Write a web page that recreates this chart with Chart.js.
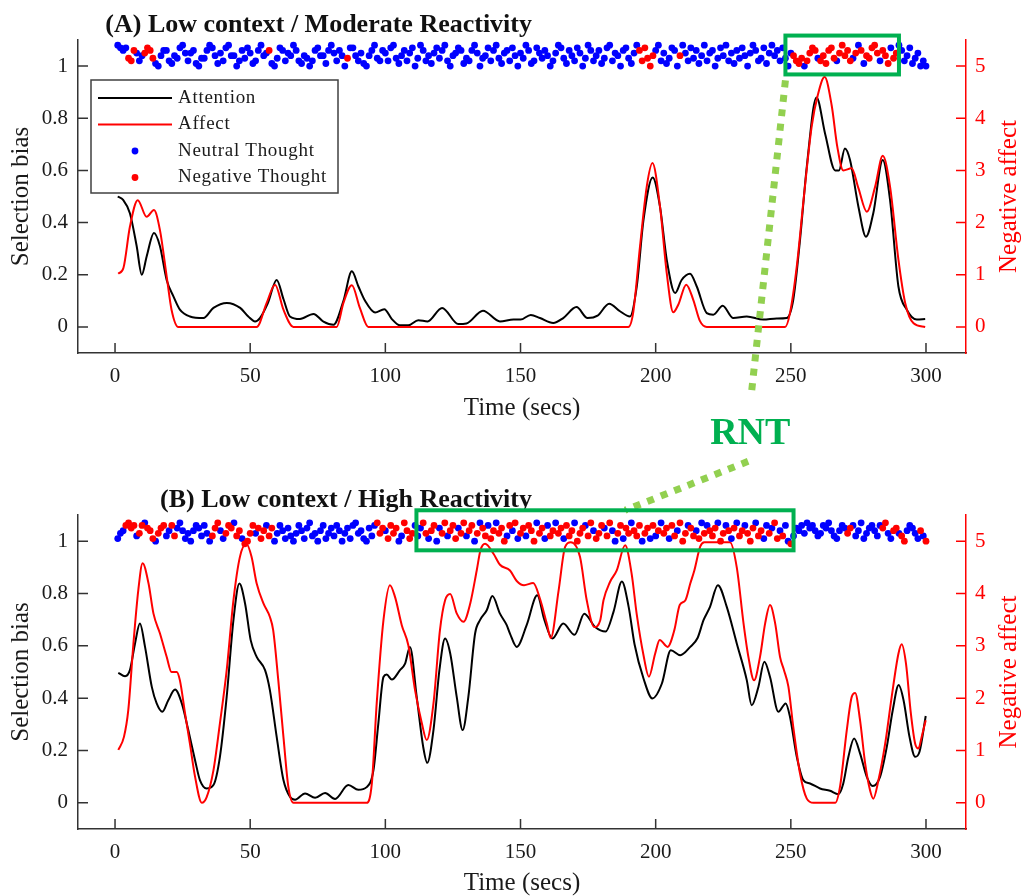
<!DOCTYPE html>
<html><head><meta charset="utf-8">
<script src="https://cdn.jsdelivr.net/npm/chart.js@4.4.0/dist/chart.umd.min.js"></script>
<style>
html,body{margin:0;padding:0;background:#fff;overflow:hidden;width:1027px;height:896px;}
#wrap{position:relative;width:1027px;height:896px;overflow:hidden;}
canvas{position:absolute;left:0;}
</style></head><body>
<div id="wrap">
<canvas id="cA" width="1027" height="430" style="top:0px"></canvas>
<canvas id="cB" width="1027" height="470" style="top:440px"></canvas>
<canvas id="ov" width="1027" height="896" style="top:0px;pointer-events:none"></canvas>
</div>
<script>
// ---------- tick labels ----------
const xTicks = [0, 50, 100, 150, 200, 250, 300];
const leftTicks = [0, 0.2, 0.4, 0.6, 0.8, 1];
const rightTicks = [0, 1, 2, 3, 4, 5];

// ---------- Panel A: Low context / Moderate Reactivity ----------
const attTimeA = [1,3,5.5,8,9.9,11.7,14.4,16.6,19.1,21.6,24,27.7,32.7,36.4,41.4,46.3,49.3,51.8,53.6,56.5,59.8,62.3,64.7,68.4,73.4,77.1,80.8,84.5,87.6,90,92.5,96.2,99.6,102.4,105.4,108.5,112.2,115.6,121,127,130,136.1,142.4,147.4,150,153.8,157.2,162.1,165.8,170.7,174.8,178.5,182.8,186.8,190.5,193,195.5,198.9,201.6,204.1,207.2,209.6,212.7,215.2,218.9,221.3,224.8,228.7,233.7,239.8,244.8,248.5,250.9,253.4,255.9,259.5,262.7,266.4,267.8,270,271.9,275,277.8,280.5,284,286.7,289.8,292.9,296.6,299.7];
const attValA = [0.5,0.487,0.436,0.31,0.2,0.27,0.36,0.31,0.18,0.117,0.066,0.04,0.034,0.073,0.092,0.073,0.04,0.021,0.034,0.09,0.18,0.107,0.04,0.03,0.05,0.02,0.008,0.1,0.213,0.156,0.1,0.055,0.068,0.03,0.006,0.006,0.026,0.021,0.073,0.011,0.013,0.062,0.021,0.028,0.028,0.046,0.034,0.015,0.034,0.076,0.034,0.043,0.089,0.06,0.04,0.155,0.41,0.573,0.461,0.257,0.13,0.18,0.204,0.155,0.053,0.047,0.081,0.034,0.04,0.028,0.032,0.034,0.104,0.334,0.614,0.88,0.74,0.6,0.6,0.684,0.64,0.461,0.346,0.436,0.64,0.487,0.155,0.066,0.028,0.03];
const affTimeA = [1.2,3.1,5.5,8.4,11.7,14.4,16.6,19.1,20.9,23.4,52.4,56.1,59.2,62.3,66,82,84.5,87.6,90.6,93.7,189.9,191.7,194.2,196.7,198.8,201.6,204.1,206.5,208.4,211.3,213.9,216.4,218.9,247.9,249.7,252.2,254.7,257.7,260,262.5,265.1,267.2,269.4,272.5,275,278.1,281.2,284,286.7,289.8,292.3,295.4,299.7];
const affValA = [1.02,1.13,1.92,2.43,2.11,2.24,1.86,0.97,0.33,0,0,0.46,0.81,0.33,0,0,0.46,0.8,0.36,0,0,0.28,1.54,2.69,3.14,2.31,1.03,0.28,0.43,0.81,0.52,0.11,0,0,0.27,1.16,2.43,3.84,4.45,4.79,4.25,3.45,3.0,3.04,2.66,2.21,2.69,3.28,2.69,1.29,0.46,0.07,0];
// thought markers, one per second (t = 1..300), height above 1 in hundredths
const thoughtOffsetA = [8,7,6,7,3,2,6,5,2,4, 5,7,6,3,1,0,4,6,6,2, 1,4,3,7,8,5,2,5,6,1, 0,3,3,6,8,7,4,1,5,2, 7,8,4,4,0,2,6,3,7,5,
 1,2,6,8,4,5,6,1,0,3, 7,6,2,5,4,8,6,2,1,4, 3,0,2,6,7,4,4,1,6,8, 5,2,6,4,0,3,7,7,4,2, 5,1,0,4,6,8,3,2,6,5,
 2,7,8,3,1,4,6,2,5,7, 0,3,8,6,2,4,1,5,7,3, 6,8,2,0,4,5,7,6,1,3, 2,6,8,5,0,3,4,7,2,6, 8,3,1,5,6,2,7,4,0,5,
 3,8,6,1,2,7,5,3,6,4, 0,2,5,8,7,3,1,6,4,2, 7,5,0,3,8,6,2,4,6,1, 3,7,8,2,5,4,0,6,7,3, 1,5,8,6,2,7,3,0,4,6,
 8,2,5,1,3,7,6,0,4,8, 5,2,7,3,6,1,4,8,2,5, 6,0,3,7,4,8,2,5,1,6, 3,7,4,0,5,8,6,2,3,7, 1,5,8,4,6,2,7,3,0,5,
 4,2,1,3,0,2,5,7,6,3, 2,4,1,6,7,3,2,5,8,4, 6,2,3,5,8,6,1,4,3,7, 8,5,2,6,4,1,7,3,5,8, 6,2,4,7,1,3,5,0,2,0];
const negTimesA = [5,6,7,11,12,13,14,57,86,194,195,196,197,198,199,209,251,252,253,254,256,257,258,259,261,262,263,264,265,266,268,269,270,271,272,274,276,278,279,280,281,282,284,285,286,288,289];

// ---------- Panel B: Low context / High Reactivity ----------
const attTimeB = [1.2,3.7,5.5,7.4,9.2,11.1,13.6,15.4,17.5,19.7,22.2,24.7,27.1,29.6,31.4,33.9,36.4,38.8,41.3,43.8,46,48.1,50.2,52.4,55.5,57.3,59.8,62.3,64.7,66.6,70.3,74,77.7,81.4,86.3,90,93.1,95.6,97.4,99.3,100.5,102.4,105.4,107.3,109.1,111.6,114,115.5,117.8,120,122.1,124,126.4,128.6,130.7,133.2,135,137.5,139.6,142.4,144.9,146.1,148.6,152.3,156.2,158.8,161.8,165.8,170,173.6,177.6,181.5,184.4,187.5,190,192.2,195.5,198.8,202.3,205.6,209.1,212.8,215.5,217.7,220.1,223,226.3,230,233.7,235.5,238,240.2,242.3,245.4,248.1,249.7,252.2,254.6,257.1,260.8,264.5,267.6,269.4,271.3,273.4,275.6,278.1,280.3,283,285.5,287.7,289.9,291.7,293.9,296,297.6,299.9];
const attValB = [0.497,0.484,0.507,0.609,0.685,0.596,0.443,0.38,0.348,0.392,0.433,0.38,0.278,0.163,0.087,0.055,0.068,0.176,0.405,0.698,0.838,0.762,0.621,0.558,0.507,0.43,0.252,0.087,0.023,0.012,0.036,0.019,0.038,0.015,0.068,0.05,0.06,0.125,0.303,0.481,0.49,0.471,0.507,0.532,0.596,0.405,0.214,0.153,0.278,0.507,0.628,0.571,0.405,0.278,0.405,0.647,0.698,0.736,0.79,0.723,0.679,0.647,0.596,0.68,0.793,0.7,0.628,0.685,0.642,0.723,0.672,0.655,0.73,0.846,0.749,0.605,0.475,0.399,0.456,0.583,0.564,0.596,0.63,0.698,0.749,0.832,0.749,0.609,0.469,0.373,0.443,0.539,0.481,0.348,0.38,0.328,0.176,0.087,0.074,0.055,0.046,0.033,0.074,0.176,0.246,0.189,0.099,0.064,0.099,0.214,0.354,0.45,0.392,0.252,0.176,0.195,0.332];
const affTimeB = [1.2,3.3,4.9,6.8,8.6,10.2,12.4,14.2,16.6,19.1,20.9,22.8,24,25.9,27.7,29.6,32.1,33.9,36.4,38.8,41.3,43.8,46.2,48.6,50.5,52.4,54.9,57.3,58.5,60.4,62.3,64.1,66,93.1,95,96.8,99.3,101.7,103.6,106.1,108.5,111,113.5,115.3,117.8,120.2,122.1,124,126.4,128.9,131.4,133.8,135.2,136.9,140,142.4,146.1,148.6,151.3,154.7,157.2,159.7,161.2,164.1,166.5,168.6,172,174.5,177.3,179.5,180.7,183.1,185.6,188.7,191.1,193,195.5,197.5,199.8,201.5,204.4,206.9,208.9,211,212.8,214.3,216.5,218,227.5,230,232.5,234.3,236.4,238.6,240.5,242.3,244.2,246,247.5,249.1,250.9,253.4,255.9,258.4,266.4,268.2,270.7,272.5,273.8,275.6,277.5,279.3,280.5,282.4,284.9,287.3,289.8,291,292.6,294.4,296,297.2,298.4,299.9];
const affValB = [1.01,1.26,1.77,3.04,4.06,4.58,4.19,3.62,3.24,2.79,2.5,2.5,2.34,1.71,1.13,0.5,0,0.11,0.62,1.52,2.53,3.87,4.7,4.95,4.7,4.19,3.81,3.55,3.3,2.34,1.26,0.31,0,0,0.37,1.9,3.49,4.16,3.93,3.39,3.01,2.15,1.52,1.2,1.9,3.3,3.87,3.99,3.62,3.46,3.81,4.44,4.83,4.95,4.76,4.55,4.44,4.24,4.16,4.2,3.9,3.43,3.15,4.06,4.89,4.98,4.7,3.87,3.36,3.49,3.87,4.22,4.44,4.92,4.38,3.6,2.82,2.41,2.85,3.11,2.98,3.3,3.78,3.87,4.19,4.44,4.9,4.98,4.98,4.5,3.43,2.79,2.34,2.79,3.43,3.78,3.43,2.79,2.53,2.22,1.45,0.56,0.08,0,0,0.31,1.39,2.02,2.1,1.58,0.75,0.24,0.08,0.43,1.13,2.02,2.85,3.03,2.66,1.71,1.13,1.04,1.26,1.58];
const thoughtOffsetB = [1,3,4,6,7,5,6,2,3,6, 7,5,4,1,0,3,5,6,2,4, 6,2,5,7,4,1,3,0,4,6, 5,2,6,3,0,2,5,7,4,1, 3,6,5,7,2,4,1,-1,0,3,
 6,3,5,1,4,6,2,5,0,3, 6,4,1,5,2,0,3,6,4,1, 5,7,2,3,0,4,6,1,3,5, 2,6,4,0,3,5,1,6,7,3, 4,1,0,5,2,6,7,3,5,4,
 1,6,3,5,0,2,7,4,1,3, 6,2,5,7,3,1,4,6,0,5, 3,7,2,4,6,1,5,3,7,2, 4,6,0,3,7,5,2,6,1,4, 7,3,5,0,2,6,4,7,1,3,
 5,2,6,4,0,7,3,5,1,6, 2,4,7,3,5,1,6,2,4,7, 0,3,5,6,2,7,4,1,3,6, 5,2,7,4,0,3,6,1,5,3, 7,4,2,6,0,3,5,1,6,2,
 4,7,3,5,1,6,2,4,7,0, 3,6,5,2,4,1,7,3,6,4, 2,5,7,0,3,6,4,1,5,7, 2,4,6,3,0,5,7,2,4,1, 6,3,5,7,1,4,2,6,0,-1,
 2,5,4,6,3,7,5,6,4,2, 3,6,5,7,4,2,1,4,6,5, 3,5,6,2,4,7,1,3,5,6, 4,2,6,5,7,3,1,4,5,3, 2,0,4,6,5,3,1,4,2,0];
const negTimesB = [4,5,6,7,9,10,12,13,14,16,17,18,21,22,36,37,38,41,42,43,45,46,48,49,50,51,53,54,55,57,58,
 97,98,99,101,102,103,104,107,108,109,
 110,114,115,117,118,121,122,124,125,126,128,129,131,132,134,136,137,139,140,142,143,144,146,148,150,151,153,154,155,157,158,
 161,162,164,165,167,168,169,171,172,173,175,176,178,179,180,182,183,186,187,189,190,192,193,194,196,197,199,
 201,203,204,206,207,209,210,211,213,214,216,218,220,221,222,224,225,227,229,231,232,234,235,236,238,239,242,244,245,247,250,
 271,272,284,285,288,289,291,292,298,300];

// ---------- helpers ----------
const SERIF = '"Liberation Serif", "Times New Roman", serif';
const AX = '#1a1a1a';
const GREEN = '#00b050', LGREEN = '#92d050';

function lineData(ts, vs) { return ts.map((t, i) => ({x: t, y: vs[i]})); }
function thoughtData(offsets, negTimes, wantNeg) {
  const out = [];
  offsets.forEach((o, i) => {
    const t = i + 1;
    if (negTimes.includes(t) === wantNeg) out.push({x: t, y: 1 + o / 100});
  });
  return out;
}

const inwardTicks = {
  id: 'inwardTicks',
  afterDatasetsDraw(chart) {
    const ctx = chart.ctx, a = chart.chartArea, L = 10;
    const sx = chart.scales.x, sy = chart.scales.y, sr = chart.scales.y2;
    ctx.save();
    ctx.lineWidth = 1.5;
    ctx.strokeStyle = '#333';
    ctx.beginPath();
    sx.ticks.forEach(t => { const p = sx.getPixelForValue(t.value); ctx.moveTo(p, a.bottom); ctx.lineTo(p, a.bottom - L); });
    sy.ticks.forEach(t => { const p = sy.getPixelForValue(t.value); ctx.moveTo(a.left, p); ctx.lineTo(a.left + L, p); });
    ctx.stroke();
    ctx.strokeStyle = '#ff0000';
    ctx.beginPath();
    sr.ticks.forEach(t => { const p = sr.getPixelForValue(t.value); ctx.moveTo(a.right, p); ctx.lineTo(a.right - L, p); });
    ctx.stroke();
    ctx.restore();
  }
};

const extras = {
  id: 'extras',
  afterDraw(chart, args, opts) {
    const ctx = chart.ctx, a = chart.chartArea;
    ctx.save();
    // right axis title (reads bottom to top)
    ctx.translate(a.right + 43, (a.top + a.bottom) / 2);
    ctx.rotate(-Math.PI / 2);
    ctx.font = '25px ' + SERIF;
    ctx.fillStyle = '#ff0000';
    ctx.textAlign = 'center';
    ctx.textBaseline = 'middle';
    ctx.fillText('Negative affect', 0, 0);
    ctx.restore();
    // panel title
    ctx.save();
    ctx.font = 'bold 26px ' + SERIF;
    ctx.fillStyle = '#111';
    ctx.textAlign = 'right';
    ctx.textBaseline = 'alphabetic';
    ctx.fillText(opts.text, a.left + 454, a.top - 8);
    ctx.restore();
    // legend
    if (opts.legend) {
      const ds = chart.data.datasets;
      const byLabel = l => ds.find(d => d.label === l);
      const order = ['Attention', 'Affect', 'Neutral Thought', 'Negative Thought'];
      const bx = a.left + 13, by = a.top + 40, bw = 247, bh = 113;
      ctx.save();
      ctx.fillStyle = '#fff';
      ctx.fillRect(bx, by, bw, bh);
      ctx.strokeStyle = '#404040';
      ctx.lineWidth = 1.5;
      ctx.strokeRect(bx, by, bw, bh);
      ctx.font = '19px ' + SERIF;
      try { ctx.letterSpacing = '0.7px'; } catch (e) {}
      ctx.textBaseline = 'middle';
      order.forEach((lab, i) => {
        const d = byLabel(lab);
        const cy = by + 18 + i * 26.5;
        if (d.showLine === false) {
          ctx.fillStyle = d.pointBackgroundColor;
          ctx.beginPath(); ctx.arc(bx + 44, cy, 3.4, 0, Math.PI * 2); ctx.fill();
        } else {
          ctx.strokeStyle = d.borderColor; ctx.lineWidth = 2;
          ctx.beginPath(); ctx.moveTo(bx + 7, cy); ctx.lineTo(bx + 81, cy); ctx.stroke();
        }
        ctx.fillStyle = AX;
        ctx.fillText(lab, bx + 87, cy);
      });
      ctx.restore();
    }
  }
};

function makeChart(canvas, cfg) {
  return new Chart(canvas, {
    type: 'line',
    data: {datasets: [
      {label: 'Negative Thought', data: thoughtData(cfg.off, cfg.neg, true), yAxisID: 'y', showLine: false,
       pointRadius: 3.4, pointHoverRadius: 3.4, pointBorderWidth: 0, pointBackgroundColor: '#ff0000', backgroundColor: '#ff0000', borderColor: '#ff0000', order: 0},
      {label: 'Neutral Thought', data: thoughtData(cfg.off, cfg.neg, false), yAxisID: 'y', showLine: false,
       pointRadius: 3.4, pointHoverRadius: 3.4, pointBorderWidth: 0, pointBackgroundColor: '#0000ff', backgroundColor: '#0000ff', borderColor: '#0000ff', order: 1},
      {label: 'Affect', data: lineData(cfg.tAff, cfg.aff), yAxisID: 'y2', borderColor: '#ff0000', borderWidth: 2,
       pointRadius: 0, cubicInterpolationMode: 'monotone', fill: false, order: 2},
      {label: 'Attention', data: lineData(cfg.tAtt, cfg.att), yAxisID: 'y', borderColor: '#000000', borderWidth: 2,
       pointRadius: 0, cubicInterpolationMode: 'monotone', fill: false, order: 3}
    ]},
    options: {
      responsive: false, animation: false, devicePixelRatio: 1,
      events: [],
      layout: {padding: {top: cfg.padTop, left: 0, right: 0, bottom: 0}},
      plugins: {legend: {display: false}, tooltip: {enabled: false}, extras: {text: cfg.title, legend: cfg.legend}},
      scales: {
        x: {type: 'linear', min: -13.7, max: 314.8,
          afterBuildTicks: s => { s.ticks = xTicks.map(v => ({value: v})); },
          afterFit: s => { s.height = cfg.xAxisH; },
          grid: {display: false, drawTicks: false},
          border: {display: true, color: '#333', width: 1.5},
          ticks: {font: {family: SERIF, size: 21}, color: AX, padding: 11, maxRotation: 0, autoSkip: false, callback: v => String(v)},
          title: {display: true, text: 'Time (secs)', font: {family: SERIF, size: 25}, color: AX, padding: {top: 0, bottom: cfg.xTitlePad}}},
        y: {type: 'linear', position: 'left', min: -0.1, max: 1.1,
          afterBuildTicks: s => { s.ticks = leftTicks.map(v => ({value: v})); },
          afterFit: s => { s.width = 78; },
          grid: {display: false, drawTicks: false},
          border: {display: true, color: '#333', width: 1.5},
          ticks: {font: {family: SERIF, size: 21}, color: AX, padding: 10, callback: v => String(v)},
          title: {display: true, text: 'Selection bias', font: {family: SERIF, size: 25}, color: AX, padding: {top: 6, bottom: 0}}},
        y2: {type: 'linear', position: 'right', min: -0.5, max: 5.5,
          afterBuildTicks: s => { s.ticks = rightTicks.map(v => ({value: v})); },
          afterFit: s => { s.width = 61; },
          grid: {display: false, drawTicks: false},
          border: {display: true, color: '#ff0000', width: 1.5},
          ticks: {font: {family: SERIF, size: 21}, color: '#ff0000', padding: 9, callback: v => String(v)},
          title: {display: false}}
      }
    },
    plugins: [inwardTicks, extras]
  });
}

const chartA = makeChart(document.getElementById('cA'), {
  title: '(A) Low context / Moderate Reactivity', legend: true,
  off: thoughtOffsetA, neg: negTimesA, tAtt: attTimeA, att: attValA, tAff: affTimeA, aff: affValA,
  padTop: 40, xAxisH: 77, xTitlePad: 7
});
const chartB = makeChart(document.getElementById('cB'), {
  title: '(B) Low context / High Reactivity', legend: false,
  off: thoughtOffsetB, neg: negTimesB, tAtt: attTimeB, att: attValB, tAff: affTimeB, aff: affValB,
  padTop: 75, xAxisH: 81, xTitlePad: 12
});

// ---------- RNT annotation overlay ----------
(function drawOverlay() {
  const ctx = document.getElementById('ov').getContext('2d');
  const P = (ch, off, xv, yv) => [ch.scales.x.getPixelForValue(xv), off + ch.scales.y.getPixelForValue(yv)];
  ctx.save();
  // dotted connectors
  ctx.strokeStyle = LGREEN; ctx.lineWidth = 7; ctx.setLineDash([7, 7.5]); ctx.lineCap = 'butt';
  let p1 = P(chartA, 0, 248, 0.945), p2 = P(chartA, 0, 235.3, -0.266);
  ctx.beginPath(); ctx.moveTo(p1[0], p1[1]); ctx.lineTo(p2[0], p2[1]); ctx.stroke();
  p1 = P(chartB, 440, 234.2, 1.305); p2 = P(chartB, 440, 188.7, 1.118);
  ctx.beginPath(); ctx.moveTo(p1[0], p1[1]); ctx.lineTo(p2[0], p2[1]); ctx.stroke();
  ctx.setLineDash([]);
  // boxes
  ctx.strokeStyle = GREEN; ctx.lineWidth = 4;
  let a = P(chartA, 0, 248, 1.117), b = P(chartA, 0, 290, 0.968);
  ctx.strokeRect(a[0], a[1], b[0] - a[0], b[1] - a[1]);
  a = P(chartB, 440, 111.5, 1.118); b = P(chartB, 440, 251, 0.965);
  ctx.strokeRect(a[0], a[1], b[0] - a[0], b[1] - a[1]);
  // label
  const t = P(chartA, 0, 235, -0.45);
  ctx.fillStyle = GREEN;
  ctx.font = 'bold 38px ' + SERIF;
  ctx.textAlign = 'center';
  ctx.textBaseline = 'alphabetic';
  ctx.fillText('RNT', t[0], t[1]);
  ctx.restore();
})();
</script>
</body></html>
